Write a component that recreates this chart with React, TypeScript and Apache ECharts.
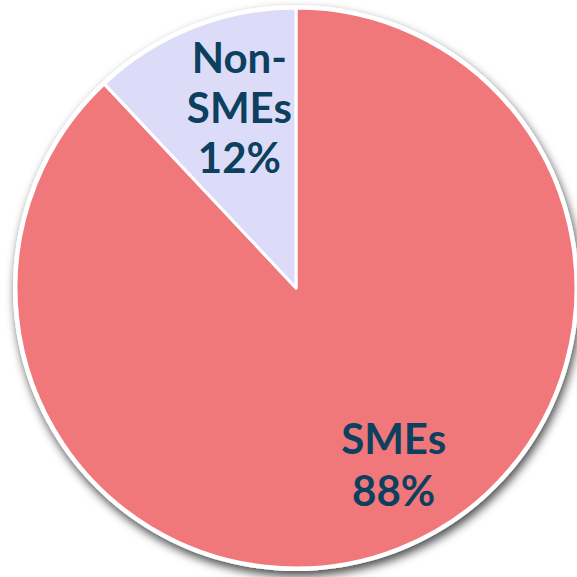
import React, { useEffect, useRef } from "react";
import * as echarts from "echarts";

const categories = ["SMEs", "Non-SMEs"];
const values = [88, 12];
const colors = ["#F0787A", "#DCDCF8"];

export default function App() {
  const ref = useRef<HTMLDivElement>(null);
  useEffect(() => {
    document.body.style.margin = "0";
    const chart = echarts.init(ref.current!, null, { renderer: "svg" });
    const data = categories.map((name, i) => ({
      name,
      value: values[i],
      itemStyle: { color: colors[i] },
      label: { lineHeight: i === 0 ? 52 : 50 },
    }));
    chart.setOption({
      animation: false,
      series: [
        {
          type: "pie",
          silent: true,
          center: [296, 288],
          radius: [0, 283],
          z: 1,
          label: { show: false },
          labelLine: { show: false },
          itemStyle: {
            color: "#ffffff",
            shadowBlur: 10,
            shadowColor: "rgba(0,0,0,0.7)",
            shadowOffsetX: 2,
            shadowOffsetY: 5,
          },
          data: [{ name: "bg", value: 1 }],
        },
        {
          type: "pie",
          z: 2,
          center: [296, 288],
          radius: [0, 280],
          startAngle: 90,
          clockwise: true,
          itemStyle: { borderColor: "#ffffff", borderWidth: 3 },
          label: {
            show: true,
            position: "inside",
            fontFamily: "Lato",
            fontWeight: "bold",
            fontSize: 42,
            color: "#0D3F5F",
            align: "center",
            formatter: (p: any) => `${String(p.name).replace("-", "-\n")}\n${Math.round(p.percent)}%`,
          },
          labelLine: { show: false },
          labelLayout: (p: any) =>
            p.dataIndex === 0 ? { dx: 45, dy: 43 } : { dx: -4, dy: -48 },
          data,
        },
      ],
    });
    return () => chart.dispose();
  }, []);
  return <div ref={ref} style={{ width: 577, height: 577 }} />;
}
